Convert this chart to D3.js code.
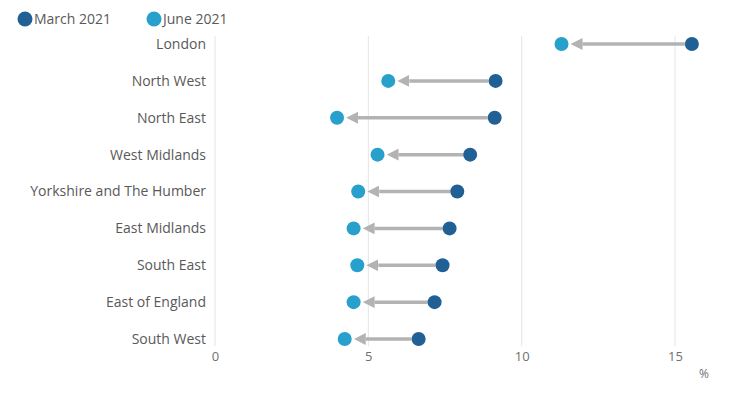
<!DOCTYPE html>
<html>
<head>
<meta charset="utf-8">
<script src="https://cdn.jsdelivr.net/npm/d3@7"></script>
<style>
  body { margin: 0; background: #fff; font-family: "Open Sans", sans-serif; }
  text { font-family: "Open Sans", sans-serif; }
</style>
</head>
<body>
<div id="chart"></div>
<script>
// regions, top to bottom
var regions = ['London', 'North West', 'North East', 'West Midlands', 'Yorkshire and The Humber',
  'East Midlands', 'South East', 'East of England', 'South West']
// values, %
var march2021 = [15.55, 9.15, 9.12, 8.32, 7.9, 7.65, 7.42, 7.16, 6.64]
var june2021 = [11.3, 5.65, 3.98, 5.3, 4.67, 4.52, 4.64, 4.52, 4.23]
var xTicks = [0, 5, 10, 15]
var seriesNames = ['March 2021', 'June 2021']
var colors = { march: '#206095', june: '#27a0cc' }

var width = 746
var height = 395
var margin = { top: 44, left: 215, right: 15, bottom: 56 }

var svg = d3.select('#chart')
  .append('svg')
  .attr('width', width)
  .attr('height', height)

var x = d3.scaleLinear().domain([0, 15]).range([margin.left, 675])
var y = d3.scalePoint().domain(regions).range([44, 339])

// arrow head marker
svg.append('defs')
  .append('marker')
  .attr('id', 'arrow')
  .attr('viewBox', '0 0 10 10')
  .attr('refX', 0)
  .attr('refY', 5)
  .attr('markerWidth', 3.4)
  .attr('markerHeight', 3.4)
  .attr('markerUnits', 'strokeWidth')
  .attr('orient', 'auto')
  .append('path')
  .attr('d', 'M0,0L10,5L0,10Z')
  .attr('fill', '#b3b3b3')

// grid lines
svg.append('g')
  .selectAll('line')
  .data(xTicks)
  .enter()
  .append('line')
  .attr('x1', function (d) { return x(d) })
  .attr('x2', function (d) { return x(d) })
  .attr('y1', 36)
  .attr('y2', 346)
  .attr('stroke', '#e5e5e5')
  .attr('stroke-width', 1)

// x axis tick labels
var xAxis = d3.axisBottom(x).tickValues(xTicks).tickSize(0).tickPadding(0)
var gx = svg.append('g')
  .attr('transform', 'translate(0,352)')
  .call(xAxis)
gx.select('.domain').remove()
gx.selectAll('text')
  .attr('fill', '#707070')
  .attr('font-size', 13)
  .attr('dy', '0.71em')

svg.append('text')
  .attr('x', 704)
  .attr('y', 378)
  .attr('text-anchor', 'middle')
  .attr('font-size', 12)
  .attr('fill', '#707070')
  .text('%')

// y labels
var yAxis = d3.axisLeft(y).tickSize(0).tickPadding(9)
var gy = svg.append('g')
  .attr('transform', 'translate(' + margin.left + ',0)')
  .call(yAxis)
gy.select('.domain').remove()
gy.selectAll('text')
  .attr('fill', '#595959')
  .attr('font-size', 14)

// arrows from March to June
var rows = regions.map(function (r, i) {
  return { region: r, march: march2021[i], june: june2021[i] }
})

svg.append('g')
  .selectAll('line')
  .data(rows)
  .enter()
  .append('line')
  .attr('x1', function (d) { return x(d.march) - 7 })
  .attr('x2', function (d) { return x(d.june) + 21 })
  .attr('y1', function (d) { return y(d.region) })
  .attr('y2', function (d) { return y(d.region) })
  .attr('stroke', '#b3b3b3')
  .attr('stroke-width', 3.5)
  .attr('marker-end', 'url(#arrow)')

svg.append('g')
  .selectAll('circle')
  .data(rows)
  .enter()
  .append('circle')
  .attr('cx', function (d) { return x(d.march) })
  .attr('cy', function (d) { return y(d.region) })
  .attr('r', 7)
  .attr('fill', colors.march)

svg.append('g')
  .selectAll('circle')
  .data(rows)
  .enter()
  .append('circle')
  .attr('cx', function (d) { return x(d.june) })
  .attr('cy', function (d) { return y(d.region) })
  .attr('r', 7)
  .attr('fill', colors.june)

// legend
var legendX = [25, 154]
var legend = svg.append('g')
  .selectAll('g')
  .data(seriesNames)
  .enter()
  .append('g')
  .attr('transform', function (d, i) { return 'translate(' + legendX[i] + ',19)' })
legend.append('circle')
  .attr('r', 7.5)
  .attr('fill', function (d, i) { return i === 0 ? colors.march : colors.june })
legend.append('text')
  .attr('x', 9)
  .attr('dy', '0.35em')
  .attr('font-size', 14)
  .attr('fill', '#595959')
  .text(function (d) { return d })
</script>
</body>
</html>
